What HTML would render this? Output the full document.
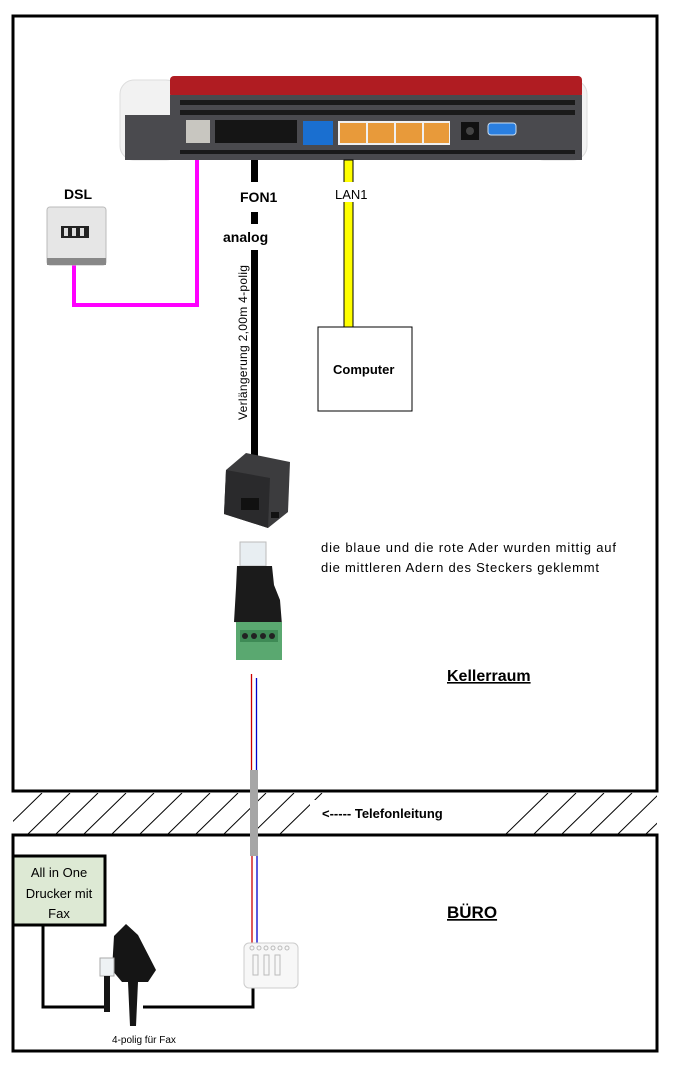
<!DOCTYPE html>
<html><head><meta charset="utf-8"><style>
html,body{margin:0;padding:0;background:#fff;}
svg{display:block;font-family:"Liberation Sans",sans-serif;}
</style></head><body>
<svg width="676" height="1067" viewBox="0 0 676 1067" xmlns="http://www.w3.org/2000/svg">
<defs>
<pattern id="h" width="24" height="40" patternUnits="userSpaceOnUse">
<line x1="0" y1="40" x2="40" y2="0" stroke="#000" stroke-width="1"/>
</pattern>
<clipPath id="hc"><rect x="13" y="793" width="644" height="41"/></clipPath>
</defs>
<!-- hatch band -->
<g clip-path="url(#hc)">
<g stroke="#000" stroke-width="1">
<line x1="0" y1="834" x2="42" y2="793"/><line x1="28" y1="834" x2="70" y2="793"/><line x1="56" y1="834" x2="98" y2="793"/>
<line x1="84" y1="834" x2="126" y2="793"/><line x1="112" y1="834" x2="154" y2="793"/><line x1="140" y1="834" x2="182" y2="793"/>
<line x1="168" y1="834" x2="210" y2="793"/><line x1="196" y1="834" x2="238" y2="793"/><line x1="224" y1="834" x2="266" y2="793"/>
<line x1="252" y1="834" x2="294" y2="793"/><line x1="280" y1="834" x2="322" y2="793"/>
<line x1="506" y1="834" x2="548" y2="793"/><line x1="534" y1="834" x2="576" y2="793"/><line x1="562" y1="834" x2="604" y2="793"/>
<line x1="590" y1="834" x2="632" y2="793"/><line x1="618" y1="834" x2="660" y2="793"/><line x1="646" y1="834" x2="688" y2="793"/>
</g></g>
<rect x="310" y="800" width="190" height="28" fill="#fff"/>
<!-- boxes -->
<rect x="13" y="16" width="644" height="775" fill="none" stroke="#000" stroke-width="3"/>
<rect x="13" y="835" width="644" height="216" fill="none" stroke="#000" stroke-width="3"/>

<!-- router -->
<rect x="120" y="80" width="60" height="80" rx="14" fill="#f2f2f2" stroke="#ddd"/>
<rect x="530" y="80" width="57" height="80" rx="14" fill="#f2f2f2" stroke="#ddd"/>
<rect x="170" y="76" width="412" height="22" rx="4" fill="#b01c22"/>
<rect x="125" y="115" width="455" height="45" fill="#4a4a4e"/>
<rect x="170" y="95" width="412" height="65" fill="#4a4a4e"/>
<g fill="#1a1a1a">
<rect x="180" y="100" width="395" height="5"/><rect x="180" y="110" width="395" height="5"/><rect x="180" y="150" width="395" height="4"/>
</g>
<rect x="186" y="120" width="24" height="23" fill="#c8c6c0"/>
<rect x="215" y="120" width="82" height="23" fill="#151515"/>
<rect x="303" y="121" width="30" height="24" fill="#1a6fd0"/>
<rect x="338" y="121" width="112" height="24" fill="#f0f0f0"/>
<rect x="340" y="123" width="26" height="20" fill="#e89a3a"/><rect x="368" y="123" width="26" height="20" fill="#e89a3a"/>
<rect x="396" y="123" width="26" height="20" fill="#e89a3a"/><rect x="424" y="123" width="25" height="20" fill="#e89a3a"/>
<rect x="461" y="122" width="18" height="18" fill="#111"/><circle cx="470" cy="131" r="4" fill="#444"/>
<rect x="488" y="123" width="28" height="12" rx="3" fill="#2a7fe0" stroke="#cde" />

<!-- cables -->
<polyline points="197,160 197,305 74,305 74,264" fill="none" stroke="#f0f" stroke-width="4"/>
<line x1="254.5" y1="160" x2="254.5" y2="458" stroke="#000" stroke-width="7"/>
<rect x="344" y="160" width="9" height="168" fill="#ff0" stroke="#000" stroke-width="1"/>
<rect x="226" y="182" width="60" height="30" fill="#fff"/>
<rect x="222" y="224" width="64" height="26" fill="#fff"/>
<rect x="332" y="182" width="40" height="20" fill="#fff"/>
<text x="240" y="202" font-size="14" font-weight="bold">FON1</text>
<text x="223" y="242" font-size="14" font-weight="bold">analog</text>
<text x="335" y="199" font-size="13">LAN1</text>
<text x="64" y="199" font-size="14" font-weight="bold">DSL</text>
<text transform="translate(247,420) rotate(-90)" font-size="12" textLength="155">Verlängerung 2,00m 4-polig</text>

<!-- DSL socket -->
<rect x="47" y="207" width="59" height="58" rx="3" fill="#e6e6e6" stroke="#bbb"/>
<rect x="47" y="258" width="59" height="7" fill="#888"/>
<rect x="61" y="226" width="28" height="12" fill="#222"/>
<rect x="64" y="228" width="4" height="8" fill="#ddd"/><rect x="72" y="228" width="4" height="8" fill="#ddd"/><rect x="80" y="228" width="4" height="8" fill="#ddd"/>

<!-- computer -->
<rect x="318" y="327" width="94" height="84" fill="#fff" stroke="#000" stroke-width="1"/>
<text x="333" y="374" font-size="13" font-weight="bold">Computer</text>

<!-- adapter -->
<polygon points="226,470 246,453 290,462 288,512 268,528 224,514" fill="#3c3c3e"/>
<polygon points="226,470 270,478 268,528 224,514" fill="#2a2a2c"/>
<rect x="241" y="498" width="18" height="12" fill="#111"/>
<rect x="271" y="512" width="8" height="6" fill="#111"/>
<!-- RJ plug -->
<rect x="240" y="542" width="26" height="24" fill="#e8eef2" stroke="#bbb"/>
<polygon points="237,566 272,566 274,585 280,600 282,625 234,622 236,588" fill="#1b1b1b"/>
<rect x="236" y="622" width="46" height="38" fill="#5aa870"/>
<rect x="240" y="630" width="38" height="12" fill="#3e8a55"/>
<circle cx="245" cy="636" r="3" fill="#222"/><circle cx="254" cy="636" r="3" fill="#222"/><circle cx="263" cy="636" r="3" fill="#222"/><circle cx="272" cy="636" r="3" fill="#222"/>

<text x="321" y="552" font-size="13" textLength="295">die blaue und die rote Ader wurden mittig auf</text>
<text x="321" y="572" font-size="13" textLength="278">die mittleren Adern des Steckers geklemmt</text>
<text x="447" y="681" font-size="16" font-weight="bold" text-decoration="underline">Kellerraum</text>

<!-- wires -->
<line x1="251.5" y1="674" x2="251.5" y2="770" stroke="#c00" stroke-width="1.3"/>
<line x1="256.5" y1="678" x2="256.5" y2="770" stroke="#00c" stroke-width="1.3"/>
<rect x="250" y="770" width="8" height="86" fill="#a6a6a6"/>
<line x1="252" y1="856" x2="252" y2="944" stroke="#c00" stroke-width="1.3"/>
<line x1="257" y1="856" x2="257" y2="944" stroke="#00c" stroke-width="1.3"/>

<text x="322" y="818" font-size="13" font-weight="bold">&lt;----- Telefonleitung</text>
<text x="447" y="918" font-size="17" font-weight="bold" text-decoration="underline">BÜRO</text>

<!-- printer -->
<rect x="13" y="856" width="92" height="69" fill="#dde9d4" stroke="#000" stroke-width="3"/>
<text x="59" y="877" font-size="13" text-anchor="middle">All in One</text>
<text x="59" y="898" font-size="13" text-anchor="middle">Drucker mit</text>
<text x="59" y="918" font-size="13" text-anchor="middle">Fax</text>
<polyline points="43,925 43,1007 104,1007" fill="none" stroke="#000" stroke-width="3"/>
<polyline points="143,1007 253,1007 253,988" fill="none" stroke="#000" stroke-width="3"/>
<!-- TAE plug -->
<polygon points="114,936 126,924 138,935 156,970 148,982 138,982 136,1026 130,1026 128,982 122,982 112,970" fill="#151515"/>
<rect x="100" y="958" width="14" height="18" fill="#eef2f4" stroke="#aaa"/>
<rect x="104" y="976" width="6" height="36" fill="#151515"/>
<!-- socket -->
<rect x="244" y="943" width="54" height="45" rx="5" fill="#f7f7f7" stroke="#ccc"/>
<g fill="none" stroke="#bbb"><circle cx="252" cy="948" r="2"/><circle cx="259" cy="948" r="2"/><circle cx="266" cy="948" r="2"/><circle cx="273" cy="948" r="2"/><circle cx="280" cy="948" r="2"/><circle cx="287" cy="948" r="2"/>
<rect x="253" y="955" width="5" height="20"/><rect x="264" y="955" width="5" height="20"/><rect x="275" y="955" width="5" height="20"/></g>
<text x="112" y="1043" font-size="10">4-polig für Fax</text>
</svg>
</body></html>
